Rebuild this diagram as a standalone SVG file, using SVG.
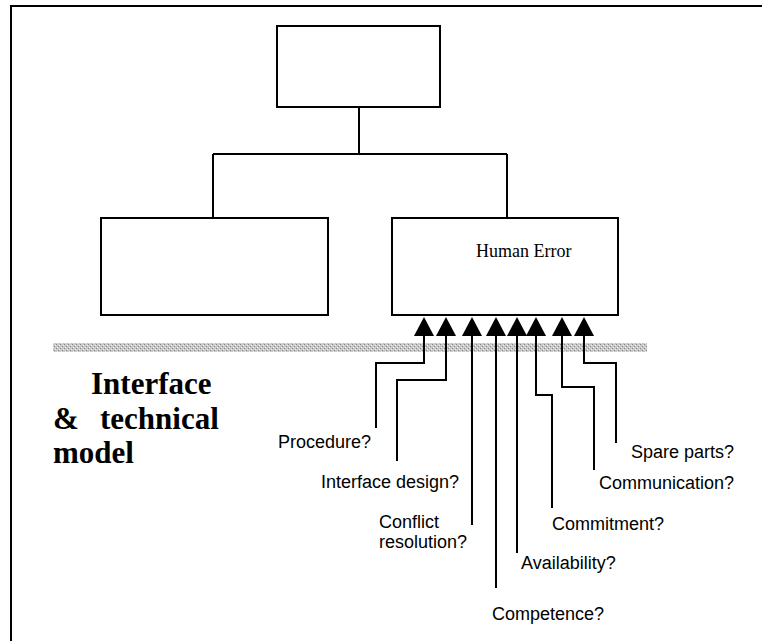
<svg xmlns="http://www.w3.org/2000/svg" width="767" height="641" viewBox="0 0 767 641">
<style>
.box{fill:#fff;stroke:#000;stroke-width:2}
.ln{fill:none;stroke:#000;stroke-width:2}
.lbl{font-family:"Liberation Sans",Arial,sans-serif;font-size:18px;fill:#000}
.ser{font-family:"Liberation Serif","Times New Roman",serif;fill:#000}
.big{font-family:"Liberation Serif","Times New Roman",serif;font-weight:bold;font-size:31px;fill:#000}
</style>
<defs>
<marker id="ah" markerUnits="userSpaceOnUse" markerWidth="20" markerHeight="21" refX="0" refY="10" orient="auto" viewBox="0 0 20 21">
<path d="M0,0 L19,10 L0,20 z" fill="#000"/>
</marker>
<pattern id="dots" width="4" height="4" patternUnits="userSpaceOnUse">
<rect width="4" height="4" fill="#c8c8c8"/>
<rect x="0" y="0" width="1" height="1" fill="#888"/>
<rect x="2" y="2" width="1" height="1" fill="#888"/>
<rect x="1" y="3" width="1" height="1" fill="#eee"/>
<rect x="3" y="1" width="1" height="1" fill="#eee"/>
</pattern>
</defs>
<rect width="767" height="641" fill="#fff"/>
<path class="ln" d="M11,641 V6 H762"/>
<rect x="53" y="343" width="594" height="9" fill="url(#dots)"/>
<g id="connectors">
<path class="ln" d="M359,107 V154 M213,154 H507 M213,154 V218 M507,154 V218"/>
<path class="ln" marker-end="url(#ah)" d="M376,428 V363 H424 V336"/>
<path class="ln" marker-end="url(#ah)" d="M397,461 V380 H446 V336"/>
<path class="ln" marker-end="url(#ah)" d="M472,525 V336"/>
<path class="ln" marker-end="url(#ah)" d="M496,588 V336"/>
<path class="ln" marker-end="url(#ah)" d="M517,553 V336"/>
<path class="ln" marker-end="url(#ah)" d="M552,508 V395 H536 V336"/>
<path class="ln" marker-end="url(#ah)" d="M594,470 V387 H562 V336"/>
<path class="ln" marker-end="url(#ah)" d="M616,443 V363 H584 V336"/>
</g>
<g id="top"><rect class="box" x="277" y="26" width="163" height="81"/></g>
<g id="left"><rect class="box" x="101" y="218" width="227" height="97"/></g>
<g id="human-error"><rect class="box" x="392" y="218" width="226" height="97"/>
<text class="ser" x="476" y="257" font-size="18">Human Error</text></g>
<g id="model-label">
<text class="big" x="91" y="394">Interface</text>
<text class="big" x="53" y="429">&amp;</text>
<text class="big" x="100" y="429">technical</text>
<text class="big" x="53" y="463">model</text>
</g>
<g id="labels">
<text class="lbl" x="278" y="448">Procedure?</text>
<text class="lbl" x="321" y="488">Interface design?</text>
<text class="lbl" x="379" y="528">Conflict</text>
<text class="lbl" x="379" y="548">resolution?</text>
<text class="lbl" x="492" y="620">Competence?</text>
<text class="lbl" x="521" y="569">Availability?</text>
<text class="lbl" x="552" y="530">Commitment?</text>
<text class="lbl" x="599" y="489">Communication?</text>
<text class="lbl" x="631" y="458">Spare parts?</text>
</g>
</svg>
